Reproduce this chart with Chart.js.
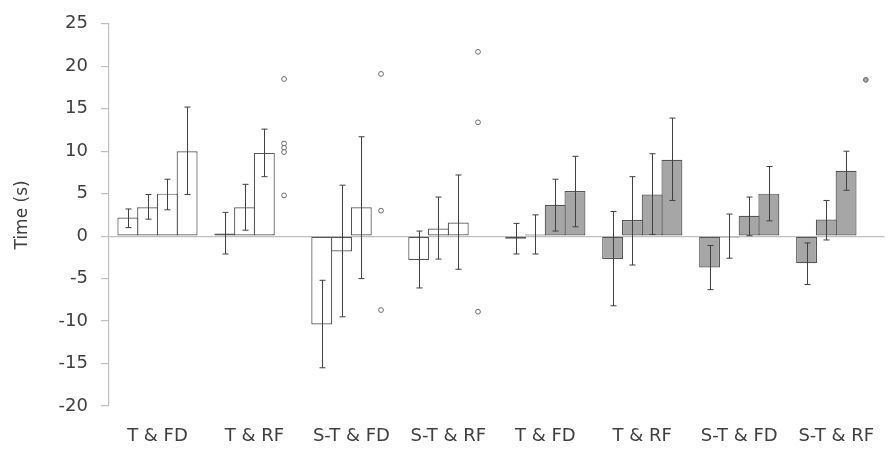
<!DOCTYPE html>
<html>
<head>
<meta charset="utf-8">
<script src="https://cdn.jsdelivr.net/npm/chart.js@4/dist/chart.umd.min.js"></script>
<style>
  html,body{margin:0;padding:0;background:#fff}
  #wrap{width:894px;height:454px}
</style>
</head>
<body>
<div id="wrap"><canvas id="c"></canvas></div>
<script>
var labels = ['T & FD','T & RF','S-T & FD','S-T & RF','T & FD','T & RF','S-T & FD','S-T & RF']

// mean values, one array per bar of a group
var bar1 = [2.2, 0.3, -10.4, -2.8, -0.3, -2.7, -3.7, -3.2]
var bar2 = [3.4, 3.4, -1.8, 0.9, 0.2, 1.9, -0.15, 1.95]
var bar3 = [5.0, 9.8, 3.4, 1.6, 3.7, 4.9, 2.4, 7.7]
var bar4 = [10.0, null, null, null, 5.3, 9.0, 5.0, null]

// error bar ends (low / high)
var bar1Lo = [1.0, -2.1, -15.5, -6.1, -2.1, -8.2, -6.3, -5.7]
var bar1Hi = [3.2, 2.8, -5.2, 0.6, 1.5, 2.9, -1.1, -0.8]
var bar2Lo = [2.0, 0.7, -9.5, -2.7, -2.1, -3.4, -2.6, -0.45]
var bar2Hi = [4.9, 6.1, 6.0, 4.6, 2.5, 7.0, 2.6, 4.2]
var bar3Lo = [3.1, 7.0, -5.0, -3.9, 0.6, 0.2, 0.05, 5.4]
var bar3Hi = [6.7, 12.6, 11.7, 7.2, 6.7, 9.7, 4.6, 10.0]
var bar4Lo = [4.9, null, null, null, 1.1, 4.2, 1.8, null]
var bar4Hi = [15.2, null, null, null, 9.4, 13.9, 8.2, null]

// outlier points, drawn in the 4th bar slot of each group
var outliers = [[], [18.5, 10.9, 10.4, 9.9, 4.8], [19.1, 3.0, -8.7], [21.7, 13.4, -8.9], [], [], [], [18.4]]

var yTicks = [-20, -15, -10, -5, 0, 5, 10, 15, 20, 25]

var lows = [bar1Lo, bar2Lo, bar3Lo, bar4Lo]
var highs = [bar1Hi, bar2Hi, bar3Hi, bar4Hi]

var fills = labels.map(function(l, i){ return i < 4 ? '#ffffff' : '#a6a6a6' })
var txt = '#404040'
var fontFam = 'DejaVu Sans'

function makeSet(data){
    return {
        data: data,
        backgroundColor: fills,
        borderColor: '#555555',
        borderWidth: 1.2,
        borderSkipped: false
    }
}

var errorBars = {
    id: 'errorBars',
    afterDatasetsDraw: function(chart){
        var ctx = chart.ctx
        var y = chart.scales.y
        ctx.save()
        ctx.strokeStyle = '#404040'
        ctx.lineWidth = 1
        for (var d = 0; d < 4; d++) {
            var meta = chart.getDatasetMeta(d)
            meta.data.forEach(function(el, i){
                var lo = lows[d][i], hi = highs[d][i]
                if (lo == null || hi == null) return
                var x = Math.round(el.x) + 0.5
                var yl = y.getPixelForValue(lo), yh = y.getPixelForValue(hi)
                ctx.beginPath()
                ctx.moveTo(x, yl); ctx.lineTo(x, yh)
                ctx.moveTo(x - 3, yl); ctx.lineTo(x + 3, yl)
                ctx.moveTo(x - 3, yh); ctx.lineTo(x + 3, yh)
                ctx.stroke()
            })
        }
        // outliers sit where the 4th bar would be
        var m3 = chart.getDatasetMeta(2)
        var step = chart.scales.x.width / labels.length * 0.815 / 4
        outliers.forEach(function(pts, i){
            if (!pts.length) return
            var x = m3.data[i].x + step
            pts.forEach(function(v){
                ctx.beginPath()
                ctx.arc(x, y.getPixelForValue(v), 2.4, 0, Math.PI * 2)
                ctx.fillStyle = i < 4 ? '#ffffff' : '#a6a6a6'
                ctx.fill()
                ctx.strokeStyle = '#6a6a6a'
                ctx.stroke()
            })
        })
        ctx.restore()
    }
}

new Chart(document.getElementById('c'), {
    type: 'bar',
    data: {
        labels: labels,
        datasets: [makeSet(bar1), makeSet(bar2), makeSet(bar3), makeSet(bar4)]
    },
    options: {
        responsive: true,
        maintainAspectRatio: false,
        animation: false,
        categoryPercentage: 0.815,
        barPercentage: 1.06,
        layout: { padding: { top: 10, right: 0, bottom: 0, left: 0 } },
        plugins: {
            legend: { display: false },
            tooltip: { enabled: false }
        },
        scales: {
            x: {
                afterFit: function(s){ s.height = 48 },
                grid: { display: false, drawTicks: false },
                border: { display: false },
                ticks: { color: txt, padding: 20, maxRotation: 0, autoSkip: false,
                         font: { family: fontFam, size: 18 } }
            },
            y: {
                min: -20, max: 25,
                afterFit: function(s){ s.width = 109 },
                afterBuildTicks: function(s){ s.ticks = yTicks.map(function(v){ return {value: v} }) },
                border: { display: true, color: '#bfbfbf', width: 1.2 },
                grid: {
                    color: function(c){ return c.tick && c.tick.value === 0 ? '#bfbfbf' : 'rgba(0,0,0,0)' },
                    lineWidth: 1.2,
                    tickColor: '#bfbfbf',
                    tickLength: 8
                },
                ticks: { color: txt, padding: 13, font: { family: fontFam, size: 18 } },
                title: { display: true, text: 'Time (s)', color: txt, padding: { top: 12, bottom: 0 },
                         font: { family: fontFam, size: 17 } }
            }
        }
    },
    plugins: [errorBars]
})
</script>
</body>
</html>
